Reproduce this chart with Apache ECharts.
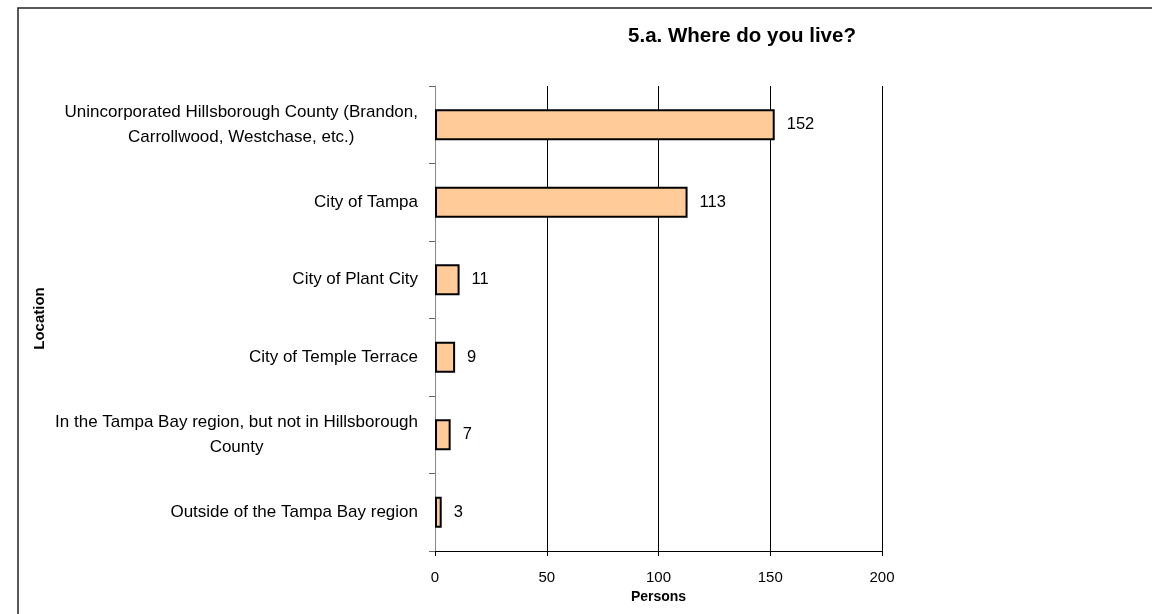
<!DOCTYPE html>
<html>
<head>
<meta charset="utf-8">
<script src="https://cdn.jsdelivr.net/npm/echarts@6/dist/echarts.min.js"></script>
<style>
  html, body { margin: 0; padding: 0; background: #fff; }
  #chart { width: 1153px; height: 614px; }
</style>
</head>
<body>
<div id="chart"></div>
<script>
// Survey question 5.a: where respondents live
const categories = [
  'Unincorporated Hillsborough County (Brandon,\nCarrollwood, Westchase, etc.)',
  'City of Tampa',
  'City of Plant City',
  'City of Temple Terrace',
  'In the Tampa Bay region, but not in Hillsborough\nCounty',
  'Outside of the Tampa Bay region'
];
const persons = [152, 113, 11, 9, 7, 3];
const titleText = '5.a. Where do you live?';
const xAxisName = 'Persons';
const yAxisName = 'Location';

const FONT = 'Arial, "Liberation Sans", Helvetica, sans-serif';

const chart = echarts.init(document.getElementById('chart'), null, { renderer: 'canvas' });

chart.setOption({
  backgroundColor: '#ffffff',
  animation: false,
  title: {
    text: titleText,
    left: 737,
    top: 21,
    textAlign: 'center',
    textStyle: { fontFamily: FONT, fontSize: 20.5, fontWeight: 'bold', color: '#000' }
  },
  graphic: [
    // outer frame (top and left edges)
    {
      type: 'polyline',
      shape: { points: [[18, 614], [18, 8], [1152, 8]] },
      style: { stroke: '#222', lineWidth: 1.5, fill: null },
      silent: true
    }
  ],
  grid: { left: 435, right: 271, top: 86, bottom: 63, containLabel: false },
  xAxis: {
    type: 'value',
    min: 0,
    max: 200,
    interval: 50,
    name: xAxisName,
    nameLocation: 'middle',
    nameGap: 36,
    nameTextStyle: { fontFamily: FONT, fontSize: 14, fontWeight: 'bold', color: '#000' },
    axisLine: { show: true, lineStyle: { color: '#000', width: 1 } },
    axisTick: { show: true, length: 5, lineStyle: { color: '#000' } },
    axisLabel: { fontFamily: FONT, fontSize: 15, color: '#000', margin: 19 },
    splitLine: {
      show: true,
      lineStyle: { color: ['#888', '#000', '#000', '#000', '#000'], width: 1 }
    }
  },
  yAxis: {
    type: 'category',
    data: categories,
    inverse: true,
    name: yAxisName,
    nameLocation: 'middle',
    nameGap: 388,
    nameRotate: 90,
    nameTextStyle: { fontFamily: FONT, fontSize: 15, fontWeight: 'bold', color: '#000' },
    axisLine: { show: true, lineStyle: { color: '#888', width: 1 } },
    axisTick: { show: true, length: 6, inside: false, lineStyle: { color: '#666' } },
    axisLabel: {
      margin: 17,
      color: '#000',
      fontFamily: FONT,
      fontSize: 17,
      lineHeight: 25,
      formatter: function (v) {
        return v.split('\n').map(function (s) { return '{c|' + s + '}'; }).join('\n');
      },
      rich: {
        c: { align: 'center', fontFamily: FONT, fontSize: 17, lineHeight: 25, color: '#000' }
      }
    },
    splitLine: { show: false }
  },
  series: [
    {
      type: 'bar',
      data: persons,
      barWidth: 31,
      itemStyle: { color: '#FFCC99', borderColor: '#000', borderWidth: 2 },
      label: {
        show: true,
        position: 'right',
        distance: 12,
        fontFamily: FONT,
        fontSize: 16.5,
        color: '#000'
      }
    }
  ]
});
</script>
</body>
</html>
